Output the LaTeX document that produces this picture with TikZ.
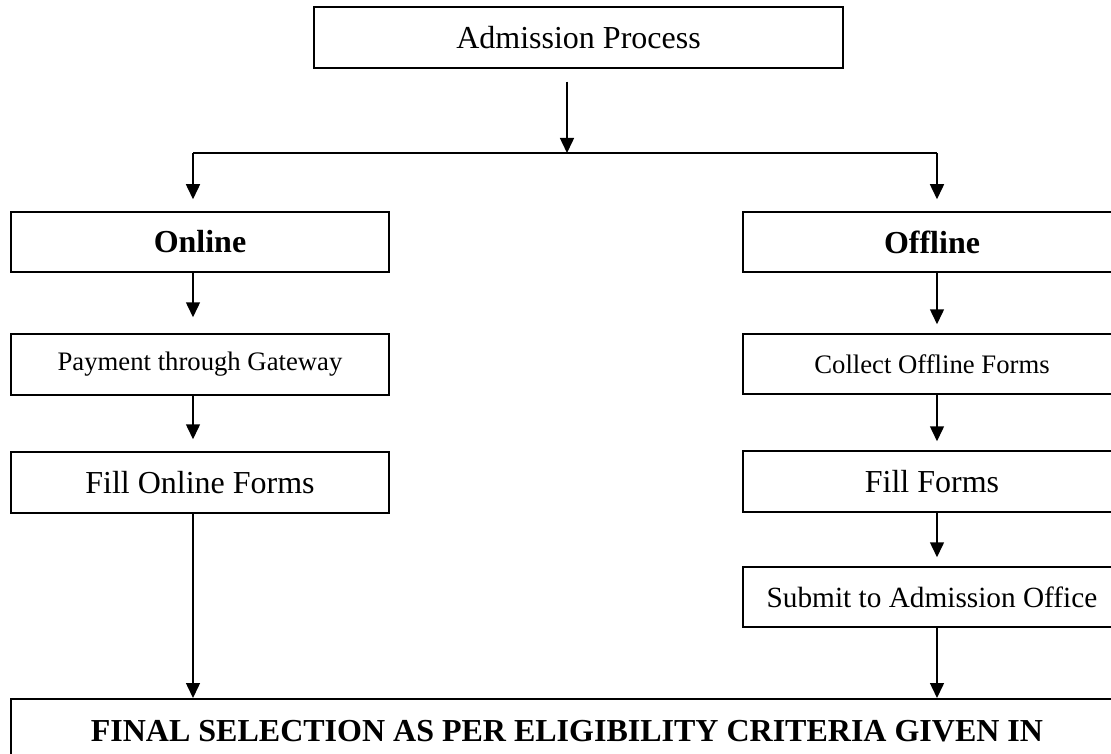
\documentclass[tikz,border=0pt]{standalone}
\usepackage{fontspec}
\setmainfont{Liberation Serif}
\usetikzlibrary{arrows.meta}
\tikzset{
    stage/.style={draw, line width=1.5pt, inner sep=0pt, minimum width=378pt, minimum height=60pt, font=\fontsize{32}{38}\selectfont},
    small/.style={font=\fontsize{26.7}{32}\selectfont},
    mid/.style={font=\fontsize{29.3}{35}\selectfont},
}
\begin{document}
\begin{tikzpicture}[x=1pt, y=-1pt, >={Triangle[length=15pt,width=14pt]}, line width=1.5pt]
        \useasboundingbox (0,0) rectangle (1111,754);
        \node[stage, minimum width=529pt, minimum height=61pt] at (578.5, 37.5) (adm) {Admission Process};
        \coordinate (split) at (567, 153);
        \coordinate (lft) at (193, 153);
        \coordinate (rgt) at (937, 153);
        \node[stage] at (200, 242) (online) {\textbf{Online}};
        \node[stage] at (932, 242) (offline) {\textbf{Offline}};
        \node[stage, small, minimum height=61pt] at (200, 364.5) (pay) {Payment through Gateway};
        \node[stage, small] at (932, 364) (collect) {Collect Offline Forms};
        \node[stage, minimum height=61pt] at (200, 482.5) (fillon) {Fill Online Forms};
        \node[stage, minimum height=61pt] at (932, 481.5) (fill) {Fill Forms};
        \node[stage, mid] at (932, 597) (submit) {Submit to Admission Office};
        \node[stage, anchor=north, minimum width=1112pt, minimum height=0pt, inner ysep=21pt, text height=22pt, text depth=60pt] at (567, 698) (final) {\textbf{FINAL SELECTION AS PER ELIGIBILITY CRITERIA GIVEN IN}};
        \draw[->, shorten <=13pt] (adm.south -| split) -- (split);
        \draw (lft) -- (rgt);
        \draw[->, shorten >=12pt] (lft) -- (online.north -| lft);
        \draw[->, shorten >=12pt] (rgt) -- (offline.north -| rgt);
        \draw[->, shorten >=16pt] (online.south -| lft) -- (pay.north -| lft);
        \draw[->, shorten >=12pt] (pay.south -| lft) -- (fillon.north -| lft);
        \draw[->] (fillon.south -| lft) -- (final.north -| lft);
        \draw[->, shorten >=9pt] (offline.south -| rgt) -- (collect.north -| rgt);
        \draw[->, shorten >=9pt] (collect.south -| rgt) -- (fill.north -| rgt);
        \draw[->, shorten >=9pt] (fill.south -| rgt) -- (submit.north -| rgt);
        \draw[->] (submit.south -| rgt) -- (final.north -| rgt);
    \end{tikzpicture}
\end{document}
